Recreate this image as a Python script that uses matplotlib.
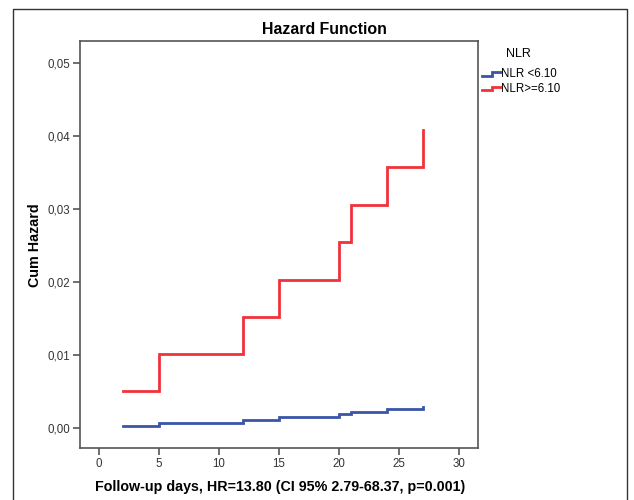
import matplotlib
matplotlib.use("Agg")
import matplotlib.pyplot as plt
from matplotlib.lines import Line2D

plt.rcParams['font.family'] = ['Liberation Sans', 'DejaVu Sans']

# ---- data ----
times = [2, 5, 12, 15, 20, 21, 24, 27]
haz_low = [0.0003, 0.0007, 0.0011, 0.0015, 0.0019, 0.0022, 0.0026, 0.0029]
haz_high = [0.0051, 0.0101, 0.0152, 0.0203, 0.0254, 0.0305, 0.0357, 0.0408]
series_labels = ["NLR <6.10", "NLR>=6.10"]
legend_title = "NLR"
x_ticks = [0, 5, 10, 15, 20, 25, 30]
y_ticks = [0.00, 0.01, 0.02, 0.03, 0.04, 0.05]
y_tick_labels = ["0,00", "0,01", "0,02", "0,03", "0,04", "0,05"]
title = "Hazard Function"
xlabel = "Follow-up days, HR=13.80 (CI 95% 2.79-68.37, p=0.001)"
ylabel = "Cum Hazard"

BLUE = "#3a55a8"
RED = "#f0323a"
AX = "#555555"

fig = plt.figure(figsize=(6.34, 5.0), dpi=100)
ax = fig.add_axes([80/634, 1-448/500, (478-80)/634, (448-41)/500])

ax.plot(times, haz_low, drawstyle="steps-post", color=BLUE, lw=2.0, solid_joinstyle="miter")
ax.plot(times, haz_high, drawstyle="steps-post", color=RED, lw=2.0, solid_joinstyle="miter")

ax.set_xlim(-1.6, 31.6)
ax.set_ylim(-0.00274, 0.05295)
ax.set_xticks(x_ticks)
ax.set_xticklabels([str(v) for v in x_ticks])
ax.set_yticks(y_ticks)
ax.set_yticklabels(y_tick_labels)
ax.tick_params(direction="out", length=5, width=1.2, color=AX, labelsize=8.3, labelcolor="#333333", pad=2)
for s in ax.spines.values():
    s.set_color(AX)
    s.set_linewidth(1.2)

fig.text(280/634, 1-487/500, xlabel, ha="center", va="center", fontsize=10.3, fontweight="bold")
fig.text(35/634, 1-245/500, ylabel, ha="center", va="center", rotation=90, fontsize=10.3, fontweight="bold")
fig.text(324/634, 1-30/500, title, ha="center", va="center", fontsize=11.4, fontweight="bold")

# outer frame (left, top, right)
fig.add_artist(Line2D([13/634, 13/634, 627/634, 627/634], [0, 1-9/500, 1-9/500, 0],
                      transform=fig.transFigure, color="#333333", lw=1.0))

# legend
fig.text(518/634, 1-54/500, legend_title, ha="center", va="center", fontsize=9)
for i, (lab, col) in enumerate(zip(series_labels, [BLUE, RED])):
    yc = 74 + i * 14.5
    xs = [482, 492, 492, 501]
    ys = [yc + 1.5, yc + 1.5, yc - 1.8, yc - 1.8]
    fig.add_artist(Line2D([x/634 for x in xs], [1 - y/500 for y in ys],
                          transform=fig.transFigure, color=col, lw=2.0, solid_joinstyle="miter"))
    fig.text(501/634, 1-yc/500, lab, ha="left", va="center", fontsize=8.3)

fig.savefig("out.png", dpi=100)
